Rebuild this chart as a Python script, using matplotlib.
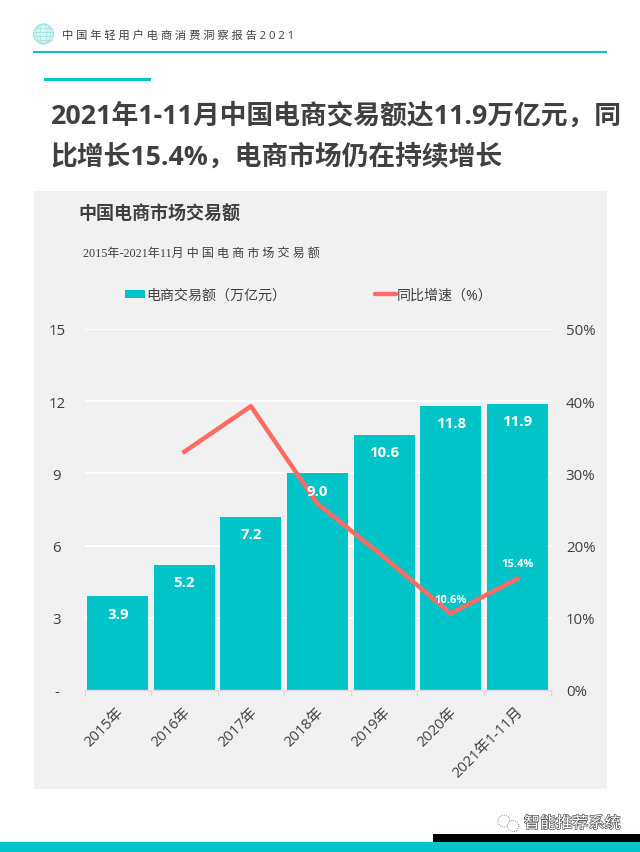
import matplotlib
matplotlib.use('Agg')
import matplotlib.pyplot as plt
from matplotlib.patches import Rectangle, Circle, Ellipse
import matplotlib.patheffects as pe
import numpy as np

plt.rcParams['font.family'] = ['Open Sans', 'Noto Sans CJK SC', 'DejaVu Sans']

years = ['2015年', '2016年', '2017年', '2018年', '2019年', '2020年', '2021年1-11月']
sales = [3.9, 5.2, 7.2, 9.0, 10.6, 11.8, 11.9]
growth = [None, 33.0, 39.3, 25.8, 18.4, 10.6, 15.4]
left_ticks = [0, 3, 6, 9, 12, 15]
left_labels = ['-', '3', '6', '9', '12', '15']
right_ticks = [0, 10, 20, 30, 40, 50]
right_labels = ['0%', '10%', '20%', '30%', '40%', '50%']

W, H = 640, 853
TEAL = '#00C4C8'
RED = '#FF6B63'
DARK = '#404040'
GREY = '#F1F1F1'

fig = plt.figure(figsize=(6.4, 8.53), dpi=100, facecolor='white')

# 整张图用像素坐标的底层画布
bg = fig.add_axes([0, 0, 1, 1])
bg.set_xlim(0, W)
bg.set_ylim(H, 0)
bg.axis('off')

# 页眉
bg.add_patch(Rectangle((33, 51.5), 574, 2, color=TEAL, lw=0))
bg.add_patch(Rectangle((44, 78.5), 107, 3, color=TEAL, lw=0))
bg.add_patch(Circle((43.5, 35), 10, fc='#DDF5F5', ec='#A8E4E4', lw=0.8))
for dx in [3.5, 7]:
    bg.add_patch(Ellipse((43.5, 35), 2 * dx, 20, fc='none', ec='#9ADFDF', lw=0.5))
for dy in [-6, -2, 2, 6]:
    half = np.sqrt(100 - dy ** 2)
    bg.plot([43.5 - half, 43.5 + half], [35 + dy, 35 + dy], color='#9ADFDF', lw=0.5)
bg.text(62, 36, ' '.join('中国年轻用户电商消费洞察报告') + ' 2 0 2 1', fontsize=8.1,
        color=DARK, va='center', ha='left')

# 大标题
bg.text(51, 116, '2021年1-11月中国电商交易额达11.9万亿元，同', fontsize=19.3, weight='bold',
        color=DARK, va='center', ha='left')
bg.text(51, 157, '比增长15.4%，电商市场仍在持续增长', fontsize=19.3, weight='bold',
        color=DARK, va='center', ha='left')

# 灰色底板
bg.add_patch(Rectangle((34, 191.5), 573, 598, color=GREY, lw=0))
bg.text(78.5, 215, '中国电商市场交易额', fontsize=13, weight='bold', color=DARK, va='center', ha='left')
bg.text(83, 254, '2015年-2021年11月 中 国 电 商 市 场 交 易 额', fontsize=8.7, color=DARK,
        family=['Liberation Serif', 'Noto Sans CJK SC'], va='center', ha='left')

# 图例
bg.add_patch(Rectangle((125, 291), 20, 8, color=TEAL, lw=0))
bg.text(146, 296, '电商交易额（万亿元）', fontsize=10.1, color=DARK, va='center', ha='left')
bg.plot([375, 396], [295, 295], color=RED, lw=3.2, solid_capstyle='round')
bg.text(397, 296, '同比增速（%）', fontsize=10.1, color=DARK, va='center', ha='left')

# 页脚
bg.add_patch(Rectangle((0, 842.5), W, 10.5, color=TEAL, lw=0))
bg.add_patch(Rectangle((433, 835), 207, 8, color='black', lw=0))
wm = bg.text(524, 825, '智能推荐系统', fontsize=11.6, color='white', va='center', ha='left')
wm.set_path_effects([pe.withStroke(linewidth=1.0, foreground='#555555')])
for cx, cy, r in [(504, 822, 6), (513, 827, 5.5)]:
    bg.add_patch(Circle((cx, cy), r, fc='white', ec='#666666', lw=0.6, ls=':'))

# 主图
ax = fig.add_axes([84.5 / W, 1 - 691 / H, 466 / W, 361 / H], facecolor='none')
x = np.arange(len(years))
ax.set_xlim(-0.5, len(years) - 0.5)
ax.set_ylim(0, 15)
ax.set_yticks(left_ticks)
ax.set_yticklabels(left_labels, fontsize=10.8, color=DARK)
for lab in ax.get_yticklabels():
    lab.set_ha('center')
ax.tick_params(axis='y', length=0, pad=20)
ax.grid(axis='y', color='white', lw=1.5)
ax.set_axisbelow(True)
for side in ['top', 'left', 'right']:
    ax.spines[side].set_visible(False)
ax.spines['bottom'].set_color('#DADADA')
ax.spines['bottom'].set_linewidth(1)

ax.bar(x, sales, width=0.915, color=TEAL, zorder=2)

ax.set_xticks(np.arange(len(years) + 1) - 0.5)
ax.set_xticklabels([])
ax.tick_params(axis='x', color='#DADADA', length=4, width=1)
ax.set_xticks(x - 0.02, minor=True)
ax.set_xticklabels(years, minor=True, rotation=45, ha='right', rotation_mode='anchor',
                   fontsize=10.6, color=DARK)
ax.tick_params(axis='x', which='minor', length=0, pad=10)

# 右轴
ax2 = ax.twinx()
ax2.set_ylim(0, 50)
ax2.set_yticks(right_ticks)
ax2.set_yticklabels(right_labels, fontsize=10.8, color=DARK)
ax2.tick_params(axis='y', length=0, pad=11)
for side in ['top', 'left', 'right', 'bottom']:
    ax2.spines[side].set_visible(False)
ax2.plot(x[1:], growth[1:], color=RED, lw=3.2, zorder=4)

# 数据标签放在折线之上
for xi, v in zip(x, sales):
    ax2.annotate(f'{v:.1f}', (xi, v), xycoords=ax.transData, xytext=(0, -12.5),
                 textcoords='offset points', ha='center', va='center', color='white',
                 fontsize=10.8, weight='bold', zorder=6)
ax2.annotate('10.6%', (x[5], growth[5]), xytext=(0, 10), textcoords='offset points',
             ha='center', va='center', color='white', fontsize=8, weight='bold', zorder=6)
ax2.annotate('15.4%', (x[6], growth[6]), xytext=(0, 11), textcoords='offset points',
             ha='center', va='center', color='white', fontsize=8, weight='bold', zorder=6)

fig.savefig('out.png', dpi=100)
